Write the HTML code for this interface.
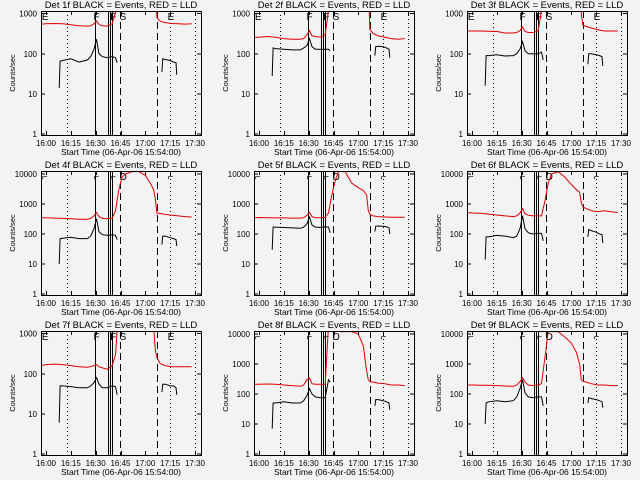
<!DOCTYPE html>
<html><head><meta charset="utf-8">
<style>
html,body{margin:0;padding:0;background:#f3f3f3;}
svg{display:block;font-family:"Liberation Sans",sans-serif;}
</style></head>
<body>
<svg id="c" width="640" height="480" viewBox="0 0 640 480"></svg>
<script>
const RT = [-3,0,5,10,15,20,25,27,29,30.5,32,34,37,40,42,44,46,48,52,56,60,63,65,66,67,69,72,76,80,84,88];
const red1 = [550,560,570,560,530,500,490,500,560,660,540,500,490,560,1100,5000,5000,5000,5000,5000,5000,5000,5000,5000,800,650,600,570,560,550,560];
const red2 = [260,260,270,260,240,230,230,240,300,380,280,270,260,300,1200,5000,5000,5000,5000,5000,5000,5000,5000,5000,400,320,280,260,240,230,240];
const red3 = [370,370,370,365,360,330,330,340,380,470,360,340,340,380,1200,5000,5000,5000,5000,5000,5000,5000,5000,1000,520,480,440,400,370,370,370];
const red4 = [350,350,340,330,320,310,310,330,400,520,380,330,320,340,600,3000,8000,10000,12000,12000,9000,5000,3000,1500,500,480,450,420,400,380,370];
const red5 = [350,355,350,345,345,340,340,350,420,520,380,350,350,360,500,2000,6000,12000,12000,5000,3500,2800,2000,600,450,400,380,370,360,360,360];
const red6 = [520,500,490,460,430,400,380,400,500,700,480,420,400,400,400,1200,5000,10000,12000,8000,4500,3000,2500,1100,800,700,600,550,600,550,520];
const red7 = [160,170,175,170,160,150,145,150,160,170,150,140,130,160,300,5000,5000,5000,5000,5000,5000,5000,1500,400,250,180,160,150,150,150,150];
const red8 = [210,210,215,210,200,190,180,200,300,350,220,210,210,210,20000,20000,20000,12000,12000,12000,10000,4000,600,300,260,250,230,220,200,200,190];
const red9 = [200,200,195,195,190,185,180,200,260,350,250,200,190,200,220,1500,12000,12000,12000,8000,5000,2500,1000,300,270,250,220,200,200,190,190];
const BT1 = [8,8.5,10,15,20,25,27,29,30.5,32,34,37,40,42,43];
const BT2 = [70,70.5,72,75,77,78.5,79];
const blk1 = [14,65,68,75,62,70,85,130,230,100,85,80,85,80,60];
const blk1b = [35,75,72,68,62,60,30];
const blk2 = [28,140,135,130,125,125,140,160,240,150,130,130,130,130,120];
const blk2b = [90,150,155,150,140,130,80];
const blk3 = [16,90,90,95,88,90,100,130,200,120,100,100,100,110,70];
const blk3b = [55,100,100,95,90,85,50];
const blk4 = [10,70,72,78,70,70,85,150,320,120,95,90,95,90,65];
const blk4b = [45,85,85,75,70,65,40];
const blk5 = [30,170,170,165,160,155,170,220,370,200,170,165,175,170,110];
const blk5b = [120,180,185,180,175,160,100];
const blk6 = [14,80,80,90,85,75,85,150,400,150,110,100,105,105,60];
const blk6b = [80,140,130,115,100,95,50];
const blk7 = [6,50,50,48,45,45,50,60,80,55,45,45,50,48,30];
const blk7b = [35,55,55,50,50,45,30];
const blk8 = [7,50,50,55,50,50,60,90,150,100,80,75,75,300,250];
const blk8b = [40,65,65,60,55,50,30];
const blk9 = [10,50,55,60,55,60,80,150,300,110,80,75,80,80,40];
const blk9b = [50,75,70,65,60,55,35];
const detNames = ["1f","2f","3f","4f","5f","6f","7f","8f","9f"];
const topDecades = [3,3,3,4,4,4,3,4,4];
const xTickLabels = ["16:00","16:15","16:30","16:45","17:00","17:15","17:30"];
const xTickMinutes = [0,15,30,45,60,75,90];
const reds=[red1,red2,red3,red4,red5,red6,red7,red8,red9];
const blks=[blk1,blk2,blk3,blk4,blk5,blk6,blk7,blk8,blk9];
const blkbs=[blk1b,blk2b,blk3b,blk4b,blk5b,blk6b,blk7b,blk8b,blk9b];

const NS="http://www.w3.org/2000/svg";
const svg=document.getElementById('c');
function mk(tag,attrs,parent){const e=document.createElementNS(NS,tag);for(const k in attrs)e.setAttribute(k,attrs[k]);(parent||svg).appendChild(e);return e;}

for(let p=0;p<9;p++){
  const ox=[0,213,426][p%3], oy=[0,160,320][Math.floor(p/3)];
  const g=mk('g',{transform:`translate(${ox},${oy})`});
  
  
  const L=41,R=201,T=11,B=135;
  const xs=t=>46+t*149/90;
  const xr=t=>Math.round(xs(t))+0.5;
  const dec=topDecades[p];
  const dpx = dec===3?40.1:30;
  const ys=v=>134-Math.log10(v)*dpx;
  const cid='clip'+p;
  const cp=mk('clipPath',{id:cid},g); mk('rect',{x:L,y:T,width:R-L,height:B-T},cp);
  const tt=mk('text',{x:121,y:8,'font-size':'9.5','text-anchor':'middle',fill:'#000'},g);
  tt.textContent='Det '+detNames[p]+' BLACK = Events, RED = LLD';
  
  
  const vl=(x,dash)=>{const l=mk('line',{x1:x,x2:x,y1:T,y2:B,stroke:'#000','stroke-width':1,'stroke-dasharray':dash||'none','shape-rendering':'crispEdges'},g);
    };
  vl(xr(12.5),'1,3');vl(xr(75),'1,3');vl(xr(90),'1,3');
  vl(95.5);vl(108.5);vl(110.5);vl(112.5);
  vl(120.5,'7,4');vl(157.5,'7,4');
  const labs = p<3||p===6 ? [['E',-2.5],['F',28.7],['F',38.8],['S',44.5],['E',73.5]] : [['⌐',-2.5],['⌐',28.7],['⌐',38.8],['D',44.5],['⌐',73.5]];
  labs.forEach(([s,t])=>{const e=mk('text',{x:xs(t),y:T+9,'font-size':'10',fill:'#000'},g);e.textContent=s;
    });
  const cg=mk('g',{'clip-path':`url(#${cid})`},g);
  const path=(T_,V,col)=>{let d='';T_.forEach((t,i)=>{d+=(i?'L':'M')+xs(t).toFixed(1)+','+ys(V[i]).toFixed(1);});
    return mk('path',{d,fill:'none',stroke:col,'stroke-width':1},cg);};
  const r=path(RT,reds[p],'#e00000');
  const b1=path(BT1,blks[p],'#000');
  const b2=path(BT2,blkbs[p],'#000');
  const bx=mk('rect',{x:L+0.5,y:T+0.5,width:R-L,height:B-T,fill:'none',stroke:'#000','stroke-width':1,'shape-rendering':'crispEdges'},g);
  
  for(let d=0;d<=dec;d++){const y=ys(Math.pow(10,d));
    mk('line',{x1:L,x2:L+4,y1:y,y2:y,stroke:'#000','shape-rendering':'crispEdges'},g);mk('line',{x1:R-4,x2:R,y1:y,y2:y,stroke:'#000','shape-rendering':'crispEdges'},g);
    const e=mk('text',{x:37,y:y+3,'font-size':'8','text-anchor':'end',fill:'#000'},g);e.textContent=String(Math.pow(10,d));
    }
  xTickMinutes.forEach((m,i)=>{const x=xr(m);
    mk('line',{x1:x,x2:x,y1:B,y2:B-4,stroke:'#000','shape-rendering':'crispEdges'},g);mk('line',{x1:x,x2:x,y1:T,y2:T+4,stroke:'#000','shape-rendering':'crispEdges'},g);
    const e=mk('text',{x:xs(m),y:146,'font-size':'8','text-anchor':'middle',fill:'#000'},g);e.textContent=xTickLabels[i];
    });
  const xt=mk('text',{x:121,y:155,'font-size':'8.5','text-anchor':'middle',fill:'#000'},g);xt.textContent='Start Time (06-Apr-06 15:54:00)';
  
  const yt=mk('text',{x:0,y:0,'font-size':'7.5','text-anchor':'middle',fill:'#000',transform:'translate(15,73) rotate(-90)'},g);yt.textContent='Counts/sec';
  
}
</script>
</body></html>
